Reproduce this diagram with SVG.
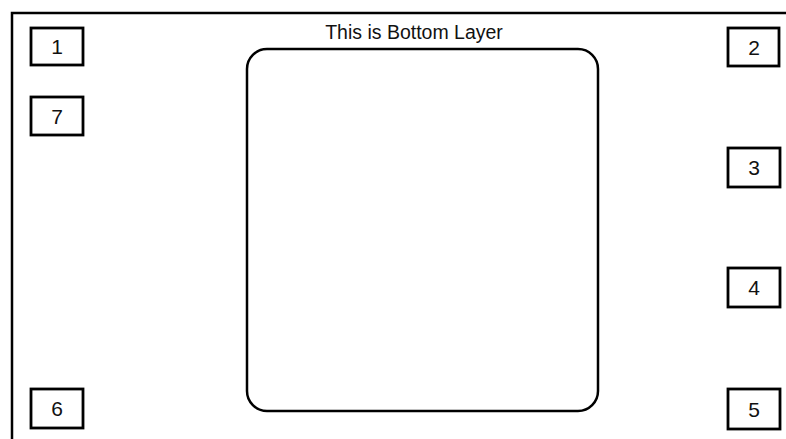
<svg xmlns="http://www.w3.org/2000/svg" width="786" height="439" viewBox="0 0 786 439">
<style>
.box{fill:#fff;stroke:#000;stroke-width:2.8}
.lbl{font-family:"Liberation Sans",Arial,sans-serif;font-size:21px;fill:#111;text-anchor:middle}
</style>
<rect x="0" y="0" width="786" height="439" fill="#fff"/>
<g id="frame"><path d="M12 439 V13 H786" fill="none" stroke="#000" stroke-width="2.5"/></g>
<g id="layer">
<rect x="247" y="49" width="351" height="362" rx="20" fill="#fff" stroke="#000" stroke-width="2.5"/>
<text class="lbl" x="414" y="39" style="font-size:19.5px">This is Bottom Layer</text>
</g>
<g id="n1"><rect class="box" x="31" y="28" width="52" height="37"/><text class="lbl" x="57" y="54">1</text></g>
<g id="n7"><rect class="box" x="31" y="97" width="52" height="38"/><text class="lbl" x="57" y="124">7</text></g>
<g id="n6"><rect class="box" x="31" y="389" width="52" height="39"/><text class="lbl" x="57" y="416">6</text></g>
<g id="n2"><rect class="box" x="728" y="28" width="51" height="38"/><text class="lbl" x="754" y="55">2</text></g>
<g id="n3"><rect class="box" x="728" y="148" width="52" height="39"/><text class="lbl" x="754" y="175">3</text></g>
<g id="n4"><rect class="box" x="728" y="268" width="52" height="39"/><text class="lbl" x="754" y="295">4</text></g>
<g id="n5"><rect class="box" x="728" y="389" width="52" height="40"/><text class="lbl" x="754" y="417">5</text></g>
<g id="connectors"></g>
</svg>
